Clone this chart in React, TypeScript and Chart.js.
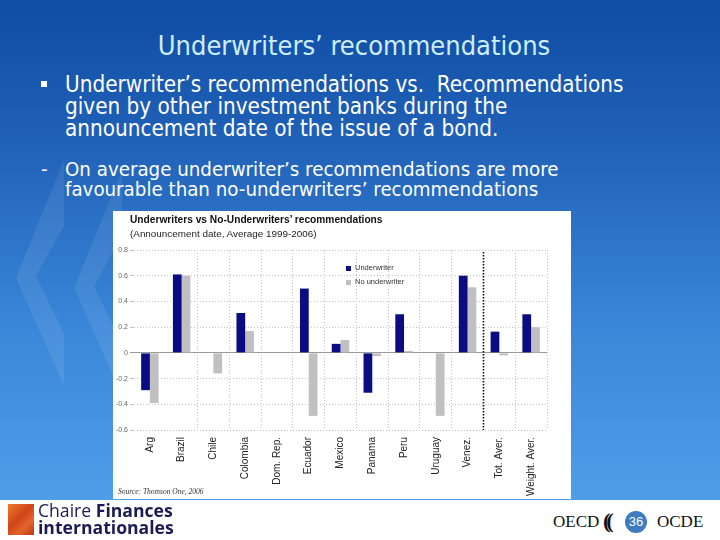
import React, { useEffect, useRef } from "react";
import { Chart, registerables } from "chart.js";

Chart.register(...registerables);

const categories = [
  "Arg",
  "Brazil",
  "Chile",
  "Colombia",
  "Dom. Rep.",
  "Ecuador",
  "Mexico",
  "Panama",
  "Peru",
  "Uruguay",
  "Venez.",
  "Tot. Aver.",
  "Weight. Aver.",
];
const underwriter = [-0.29, 0.61, 0, 0.31, 0, 0.5, 0.07, -0.31, 0.3, 0, 0.6, 0.165, 0.3];
const noUnderwriter = [-0.39, 0.6, -0.16, 0.17, 0, -0.49, 0.1, -0.025, 0.015, -0.49, 0.51, -0.02, 0.2];
const seriesNames = ["Underwriter", "No underwriter"];
const yMin = -0.6;
const yMax = 0.8;
const yStep = 0.2;
const separatorAfter = "Venez.";

const NAVY = "#0b0b82";
const GREY = "#c0c0c0";

const separatorPlugin = {
  id: "separator",
  afterDatasetsDraw(chart: any) {
    const xs = chart.scales.x;
    const i = categories.indexOf(separatorAfter);
    const x = (xs.getPixelForValue(i) + xs.getPixelForValue(i + 1)) / 2;
    const { top, bottom } = chart.chartArea;
    const ctx = chart.ctx;
    ctx.save();
    ctx.strokeStyle = "#111";
    ctx.lineWidth = 1.6;
    ctx.setLineDash([1.6, 1.4]);
    ctx.beginPath();
    ctx.moveTo(x, top + 2);
    ctx.lineTo(x, bottom);
    ctx.stroke();
    ctx.restore();
  },
};

function ChartBox() {
  const ref = useRef<HTMLCanvasElement>(null);
  useEffect(() => {
    if (!ref.current) return;
    const chart = new Chart(ref.current, {
      type: "bar",
      data: {
        labels: categories,
        datasets: [
          { label: seriesNames[0], data: underwriter, backgroundColor: NAVY, borderWidth: 0 },
          { label: seriesNames[1], data: noUnderwriter, backgroundColor: GREY, borderWidth: 0 },
        ],
      },
      options: {
        animation: false,
        responsive: false,
        devicePixelRatio: 1,
        layout: { padding: { top: 39, right: 24, left: 0, bottom: 0 } },
        datasets: { bar: { categoryPercentage: 0.55, barPercentage: 1.0 } },
        plugins: { legend: { display: false }, tooltip: { enabled: false }, title: { display: false } },
        scales: {
          x: {
            afterFit: (s: any) => {
              s.height = 69;
            },
            grid: {
              offset: true,
              drawTicks: false,
              color: (c: any) => (c.index <= 1 || c.index === 11 || c.index >= 13 ? "rgba(0,0,0,0)" : "#c4c4c4"),
              lineWidth: 1,
            },
            border: { display: false, dash: [1, 2] },
            ticks: {
              minRotation: 90,
              maxRotation: 90,
              autoSkip: false,
              padding: 7,
              color: "#222",
              font: { family: "Liberation Sans, Arial", size: 10 },
            },
          },
          y: {
            min: yMin,
            max: yMax,
            afterFit: (s: any) => {
              s.width = 21;
            },
            grid: {
              drawTicks: true,
              tickLength: 4,
              color: (c: any) => (c.tick && Math.abs(c.tick.value) < 1e-9 ? "#9a9a9a" : "#c4c4c4"),
              lineWidth: 1,
            },
            border: {
              display: false,
              dash: (c: any) => (c.tick && Math.abs(c.tick.value) < 1e-9 ? [] : [1, 2]),
            },
            ticks: {
              stepSize: yStep,
              padding: 2,
              color: "#666",
              font: { family: "Liberation Sans, Arial", size: 7 },
              callback: (v: any) => String(Math.round(Number(v) * 10) / 10),
            },
          },
        },
      },
      plugins: [separatorPlugin],
    });
    return () => chart.destroy();
  }, []);
  return (
    <canvas
      ref={ref}
      width={458}
      height={288}
      style={{ position: "absolute", left: 0, top: 0, width: 458, height: 288 }}
    />
  );
}

const slideFont = "'DejaVu Sans Condensed', 'DejaVu Sans', sans-serif";

export default function App() {
  return (
    <div
      style={{
        position: "absolute",
        left: 0,
        top: 0,
        width: 720,
        height: 540,
        overflow: "hidden",
        background: "#ffffff",
      }}
    >
      {/* blue slide background */}
      <div
        style={{
          position: "absolute",
          left: 0,
          top: 0,
          width: 720,
          height: 500,
          background: "linear-gradient(to bottom, #0f4ca4 0%, #2163b9 30%, #3a86d8 65%, #4f9ee9 100%)",
        }}
      />
      {/* decorative chevrons */}
      <svg width={720} height={500} style={{ position: "absolute", left: 0, top: 0 }}>
        <polygon points="64,160 16,278 64,386 64,334 36,276 64,226" fill="rgba(255,255,255,0.08)" />
        <polygon points="122,170 74,288 122,396 122,344 94,286 122,236" fill="rgba(255,255,255,0.08)" />
      </svg>
      {/* slide title */}
      <div
        style={{
          position: "absolute",
          left: 0,
          width: 708,
          top: 29,
          textAlign: "center",
          fontFamily: slideFont,
          fontSize: 27,
          color: "#cdeeff",
          lineHeight: "34px",
        }}
      >
        Underwriters’ recommendations
      </div>
      {/* bullets */}
      <div
        style={{
          position: "absolute",
          left: 41,
          top: 81,
          width: 6,
          height: 6,
          background: "#ffffff",
        }}
      />
      <div
        style={{
          position: "absolute",
          left: 65,
          top: 73,
          width: 650,
          fontFamily: slideFont,
          fontSize: 22.3,
          lineHeight: "22px",
          color: "#ffffff",
          whiteSpace: "pre",
        }}
      >
        {"Underwriter’s recommendations vs.  Recommendations\ngiven by other investment banks during the\nannouncement date of the issue of a bond."}
      </div>
      <div
        style={{
          position: "absolute",
          left: 41,
          top: 159,
          fontFamily: slideFont,
          fontSize: 20.3,
          lineHeight: "21px",
          color: "#ffffff",
        }}
      >
        -
      </div>
      <div
        style={{
          position: "absolute",
          left: 65,
          top: 159,
          width: 640,
          fontFamily: slideFont,
          fontSize: 20.3,
          lineHeight: "20px",
          color: "#ffffff",
          whiteSpace: "pre",
        }}
      >
        {"On average underwriter’s recommendations are more\nfavourable than no-underwriters’ recommendations"}
      </div>
      {/* chart box */}
      <div
        style={{
          position: "absolute",
          left: 113,
          top: 211,
          width: 458,
          height: 288,
          background: "#ffffff",
        }}
      >
        <ChartBox />
        <div
          style={{
            position: "absolute",
            left: 17,
            top: 3,
            fontFamily: "'Liberation Sans', Arial, sans-serif",
            fontWeight: "bold",
            fontSize: 10.2,
            color: "#111",
            whiteSpace: "nowrap",
          }}
        >
          Underwriters vs No-Underwriters’ recommendations
        </div>
        <div
          style={{
            position: "absolute",
            left: 17,
            top: 17,
            fontFamily: "'Liberation Sans', Arial, sans-serif",
            fontSize: 9.9,
            color: "#222",
            whiteSpace: "nowrap",
          }}
        >
          (Announcement date, Average 1999-2006)
        </div>
        {/* legend */}
        <div style={{ position: "absolute", left: 233, top: 55, width: 5, height: 5, background: NAVY }} />
        <div
          style={{
            position: "absolute",
            left: 242,
            top: 52,
            fontFamily: "'Liberation Sans', Arial, sans-serif",
            fontSize: 7.5,
            color: "#333",
            whiteSpace: "nowrap",
          }}
        >
          {seriesNames[0]}
        </div>
        <div style={{ position: "absolute", left: 233, top: 69, width: 5, height: 5, background: GREY }} />
        <div
          style={{
            position: "absolute",
            left: 242,
            top: 66,
            fontFamily: "'Liberation Sans', Arial, sans-serif",
            fontSize: 7.5,
            color: "#333",
            whiteSpace: "nowrap",
          }}
        >
          {seriesNames[1]}
        </div>
        <div
          style={{
            position: "absolute",
            left: 5,
            top: 276,
            fontFamily: "'Liberation Serif', serif",
            fontStyle: "italic",
            fontSize: 7.5,
            color: "#333",
            whiteSpace: "nowrap",
          }}
        >
          Source: Thomson One, 2006
        </div>
      </div>
      {/* footer: left logo */}
      <div
        style={{
          position: "absolute",
          left: 8,
          top: 504,
          width: 26,
          height: 31,
          background: "linear-gradient(135deg, #f07a2a 0%, #d0451a 45%, #e2662a 70%, #b8361a 100%)",
        }}
      />
      <div
        style={{
          position: "absolute",
          left: 38,
          top: 502,
          fontFamily: "'Open Sans', sans-serif",
          fontSize: 17.6,
          lineHeight: "17px",
          color: "#1c1c55",
          whiteSpace: "nowrap",
        }}
      >
        Chaire <b>Finances</b>
        <br />
        <b>internationales</b>
      </div>
      {/* footer: OECD */}
      <div
        style={{
          position: "absolute",
          left: 553,
          top: 512,
          fontFamily: "'Liberation Serif', 'DejaVu Serif', serif",
          fontSize: 17,
          lineHeight: "20px",
          color: "#111",
          whiteSpace: "nowrap",
        }}
      >
        OECD
      </div>
      <div
        style={{
          position: "absolute",
          left: 603,
          top: 508,
          fontFamily: "'Liberation Serif', serif",
          fontWeight: "bold",
          fontSize: 22,
          lineHeight: "26px",
          color: "#111",
          letterSpacing: -4,
        }}
      >
        ((
      </div>
      <div
        style={{
          position: "absolute",
          left: 625,
          top: 511,
          width: 22,
          height: 22,
          borderRadius: 11,
          background: "#3d7cc0",
          color: "#fff",
          fontFamily: "'Liberation Sans', Arial, sans-serif",
          fontSize: 13,
          lineHeight: "22px",
          textAlign: "center",
        }}
      >
        36
      </div>
      <div
        style={{
          position: "absolute",
          left: 657,
          top: 512,
          fontFamily: "'Liberation Serif', 'DejaVu Serif', serif",
          fontSize: 17,
          lineHeight: "20px",
          color: "#111",
          whiteSpace: "nowrap",
        }}
      >
        OCDE
      </div>
    </div>
  );
}
